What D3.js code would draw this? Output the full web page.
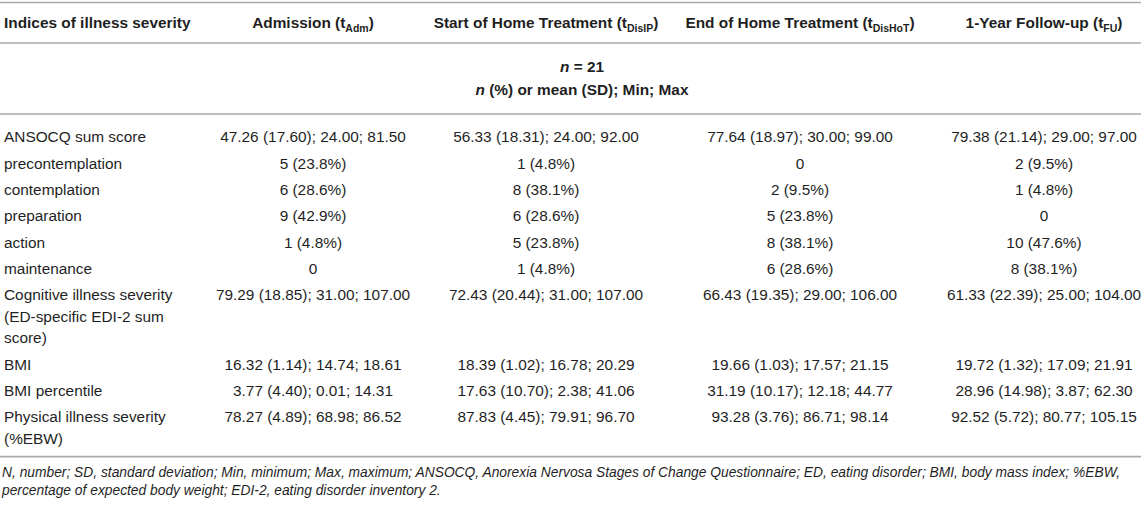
<!DOCTYPE html>
<html>
<head>
<meta charset="utf-8">
<script src="https://cdn.jsdelivr.net/npm/d3@7"></script>
<style>
  body { margin: 0; background: #fff; }
  text { font-family: "Liberation Sans", Arial, sans-serif; fill: #1f1f1f; }
</style>
</head>
<body>
<svg id="table" width="1144" height="507"></svg>
<script>
// Column headers and their subscripts
const columnKeys = ["label", "adm", "disIP", "disHoT", "fu"];
const columnTitles = ["Indices of illness severity", "Admission (t", "Start of Home Treatment (t", "End of Home Treatment (t", "1-Year Follow-up (t"];
const columnSubs = [null, "Adm", "DisIP", "DisHoT", "FU"];

const sampleLine = "21";
const statLine = " (%) or mean (SD); Min; Max";

// Row labels (already broken where the cell wraps)
const rowLabels = [
  ["ANSOCQ sum score"],
  ["precontemplation"],
  ["contemplation"],
  ["preparation"],
  ["action"],
  ["maintenance"],
  ["Cognitive illness severity", "(ED-specific EDI-2 sum", "score)"],
  ["BMI"],
  ["BMI percentile"],
  ["Physical illness severity", "(%EBW)"]
];

const admission = ["47.26 (17.60); 24.00; 81.50", "5 (23.8%)", "6 (28.6%)", "9 (42.9%)", "1 (4.8%)", "0",
  "79.29 (18.85); 31.00; 107.00", "16.32 (1.14); 14.74; 18.61", "3.77 (4.40); 0.01; 14.31", "78.27 (4.89); 68.98; 86.52"];
const startHome = ["56.33 (18.31); 24.00; 92.00", "1 (4.8%)", "8 (38.1%)", "6 (28.6%)", "5 (23.8%)", "1 (4.8%)",
  "72.43 (20.44); 31.00; 107.00", "18.39 (1.02); 16.78; 20.29", "17.63 (10.70); 2.38; 41.06", "87.83 (4.45); 79.91; 96.70"];
const endHome = ["77.64 (18.97); 30.00; 99.00", "0", "2 (9.5%)", "5 (23.8%)", "8 (38.1%)", "6 (28.6%)",
  "66.43 (19.35); 29.00; 106.00", "19.66 (1.03); 17.57; 21.15", "31.19 (10.17); 12.18; 44.77", "93.28 (3.76); 86.71; 98.14"];
const followUp = ["79.38 (21.14); 29.00; 97.00", "2 (9.5%)", "1 (4.8%)", "0", "10 (47.6%)", "8 (38.1%)",
  "61.33 (22.39); 25.00; 104.00", "19.72 (1.32); 17.09; 21.91", "28.96 (14.98); 3.87; 62.30", "92.52 (5.72); 80.77; 105.15"];

const footnoteLines = [
  "N, number; SD, standard deviation; Min, minimum; Max, maximum; ANSOCQ, Anorexia Nervosa Stages of Change Questionnaire; ED, eating disorder; BMI, body mass index; %EBW,",
  "percentage of expected body weight; EDI-2, eating disorder inventory 2."
];

const fontSize = 15.4, subSize = 10.5;
const rowPitch = 26.33, linePitch = 21.5;
const firstRow = 137;
const ruleColor = "#a9a9a9";

const svg = d3.select("#table");

// x position of each column (label column is left aligned, others centred)
const x = d3.scaleOrdinal()
  .domain(columnKeys)
  .range([4, 313, 546, 800, 1044]);
const spanX = 582;

// y for each body row: one pitch per row plus extra lines of wrapped rows before it
const extraBefore = d3.cumsum(rowLabels, d => d.length - 1);
const y = d3.scaleLinear().domain([0, 1]).range([firstRow, firstRow + rowPitch]);
const rowY = i => y(i) + (i > 0 ? extraBefore[i - 1] : 0) * linePitch;

// horizontal rules
const last = rowLabels.length - 1;
const bottomRule = rowY(last) + (rowLabels[last].length - 1) * linePitch + rowPitch / 2 + 5;
svg.selectAll("line.rule")
  .data([2.5, 43, 114, bottomRule])
  .join("line")
  .attr("class", "rule")
  .attr("x1", 0).attr("x2", 1141)
  .attr("y1", d => d).attr("y2", d => d)
  .attr("stroke", ruleColor)
  .attr("stroke-width", 1.6);

// header
const header = svg.append("g").attr("class", "header");
const heads = header.selectAll("text")
  .data(columnKeys)
  .join("text")
  .attr("x", d => x(d))
  .attr("y", 23)
  .attr("dy", "0.35em")
  .attr("text-anchor", (d, i) => i === 0 ? "start" : "middle")
  .style("font-size", fontSize + "px")
  .style("font-weight", "bold");
heads.append("tspan").text((d, i) => columnTitles[i]);
heads.filter((d, i) => columnSubs[i])
  .each(function(d) {
    const i = columnKeys.indexOf(d);
    const t = d3.select(this);
    t.append("tspan").attr("dy", 4).style("font-size", subSize + "px").text(columnSubs[i]);
    t.append("tspan").attr("dy", -4).text(")");
  });

// spanning rows under header
const span = svg.append("g").attr("class", "span")
  .style("font-size", fontSize + "px")
  .style("font-weight", "bold");
const nLine = span.append("text").attr("x", spanX).attr("y", 67).attr("dy", "0.35em").attr("text-anchor", "middle");
nLine.append("tspan").style("font-style", "italic").text("n");
nLine.append("tspan").text(" = " + sampleLine);
const sLine = span.append("text").attr("x", spanX).attr("y", 90).attr("dy", "0.35em").attr("text-anchor", "middle");
sLine.append("tspan").style("font-style", "italic").text("n");
sLine.append("tspan").text(statLine);

// body rows
const body = svg.append("g").attr("class", "body").style("font-size", fontSize + "px");
const rows = body.selectAll("g.row")
  .data(rowLabels.map((label, i) => ({
    label, i,
    adm: admission[i], disIP: startHome[i], disHoT: endHome[i], fu: followUp[i]
  })))
  .join("g")
  .attr("class", "row")
  .attr("transform", d => `translate(0,${rowY(d.i)})`);

rows.append("text")
  .selectAll("tspan")
  .data(d => d.label)
  .join("tspan")
  .attr("x", x("label"))
  .attr("y", (d, j) => j * linePitch)
  .attr("dy", "0.35em")
  .text(d => d);

columnKeys.slice(1).forEach(k => {
  rows.append("text")
    .attr("x", x(k))
    .attr("dy", "0.35em")
    .attr("text-anchor", "middle")
    .text(d => d[k]);
});

// footnote
svg.append("g").attr("class", "footnote")
  .selectAll("text")
  .data(footnoteLines)
  .join("text")
  .attr("x", 2)
  .attr("y", (d, i) => 472 + i * 18)
  .attr("dy", "0.35em")
  .style("font-size", "13.8px")
  .style("font-style", "italic")
  .text(d => d);
</script>
</body>
</html>
